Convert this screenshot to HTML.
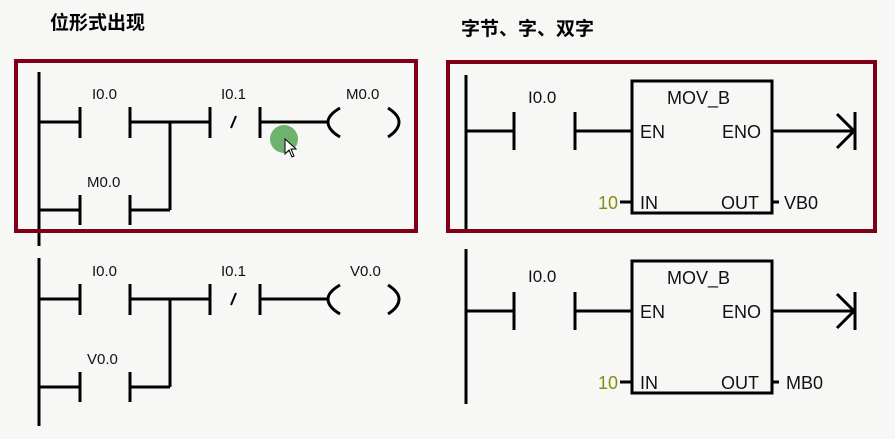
<!DOCTYPE html>
<html><head><meta charset="utf-8"><style>
html,body{margin:0;padding:0;background:#f7f8f6;width:895px;height:439px;overflow:hidden}
svg{display:block}
.t{font-family:"Liberation Sans",sans-serif;font-size:15px;fill:#111}
.t2{font-family:"Liberation Sans",sans-serif;font-size:17px;fill:#111}
.b{font-family:"Liberation Sans",sans-serif;font-size:18px;fill:#111}
.h{font-family:"Liberation Sans","Noto Sans CJK SC",sans-serif;font-size:19px;font-weight:bold;fill:#000}
</style></head><body>
<svg width="895" height="439" viewBox="0 0 895 439">
<rect width="895" height="439" fill="#f7f8f6"/>
<text class="h" x="50" y="29">位形式出现</text>
<text class="h" x="461" y="35">字节、字、双字</text>

<defs>
<g id="L" stroke="#000" stroke-width="3" fill="none">
 <line x1="80" y1="122" x2="40" y2="122"/>
 <line x1="80" y1="107" x2="80" y2="138"/>
 <line x1="130" y1="107" x2="130" y2="138"/>
 <line x1="130" y1="122" x2="210" y2="122"/>
 <line x1="170" y1="122" x2="170" y2="210"/>
 <line x1="40" y1="210" x2="80" y2="210"/>
 <line x1="80" y1="195" x2="80" y2="225"/>
 <line x1="130" y1="195" x2="130" y2="225"/>
 <line x1="130" y1="210" x2="170" y2="210"/>
 <line x1="210" y1="107" x2="210" y2="138"/>
 <line x1="260" y1="107" x2="260" y2="138"/>
 <line x1="236" y1="116" x2="231" y2="128" stroke-width="2"/>
 <line x1="260" y1="122" x2="328" y2="122"/>
 <path d="M340,108 Q328,115 328,122 Q328,130 340,137"/>
 <path d="M388,108 Q399,115 399,122 Q399,130 388,137"/>
</g>
<g id="R" stroke="#000" stroke-width="3" fill="none">
 <line x1="466" y1="131" x2="514" y2="131"/>
 <line x1="514" y1="112" x2="514" y2="150"/>
 <line x1="575" y1="112" x2="575" y2="150"/>
 <line x1="575" y1="131" x2="632" y2="131"/>
 <rect x="632" y="81" width="140" height="132"/>
 <line x1="772" y1="131" x2="855" y2="131"/>
 <line x1="855" y1="112" x2="855" y2="150"/>
 <polyline points="837,114 854,131 837,148"/>
 <line x1="620" y1="202" x2="632" y2="202"/>
 <line x1="772" y1="202" x2="779" y2="202"/>
</g>
</defs>

<line x1="39" y1="72" x2="39" y2="246" stroke="#000" stroke-width="3"/>
<use href="#L"/>
<text class="t" x="92" y="99">I0.0</text>
<text class="t" x="87" y="187">M0.0</text>
<text class="t" x="221" y="99">I0.1</text>
<text class="t" x="346" y="99">M0.0</text>
<circle cx="284" cy="139" r="14" fill="#6db36d"/>
<path d="M285,139 L285,154 L289,150 L292,157 L294,156 L291,149 L296,149 Z" fill="#fff" stroke="#000" stroke-width="1"/>
<rect x="16" y="61" width="400" height="170" fill="none" stroke="#800018" stroke-width="4"/>

<line x1="39" y1="258" x2="39" y2="426" stroke="#000" stroke-width="3"/>
<g transform="translate(0,177)"><use href="#L"/></g>
<text class="t" x="92" y="276">I0.0</text>
<text class="t" x="87" y="364">V0.0</text>
<text class="t" x="221" y="276">I0.1</text>
<text class="t" x="350" y="276">V0.0</text>

<line x1="466" y1="75" x2="466" y2="230" stroke="#000" stroke-width="3"/>
<use href="#R"/>
<text class="t2" x="528" y="103">I0.0</text>
<text class="b" x="667" y="104">MOV_B</text>
<text class="b" x="640" y="138">EN</text>
<text class="b" x="722" y="138">ENO</text>
<text class="b" x="598" y="209" style="fill:#8a8a10">10</text>
<text class="b" x="640" y="209">IN</text>
<text class="b" x="721" y="209">OUT</text>
<text class="b" x="784" y="209">VB0</text>
<rect x="448" y="62" width="427" height="169" fill="none" stroke="#800018" stroke-width="4"/>

<line x1="466" y1="249" x2="466" y2="404" stroke="#000" stroke-width="3"/>
<g transform="translate(0,180)"><use href="#R"/></g>
<text class="t2" x="528" y="282">I0.0</text>
<text class="b" x="667" y="284">MOV_B</text>
<text class="b" x="640" y="318">EN</text>
<text class="b" x="722" y="318">ENO</text>
<text class="b" x="598" y="389" style="fill:#8a8a10">10</text>
<text class="b" x="640" y="389">IN</text>
<text class="b" x="721" y="389">OUT</text>
<text class="b" x="786" y="389">MB0</text>
</svg>
</body></html>
